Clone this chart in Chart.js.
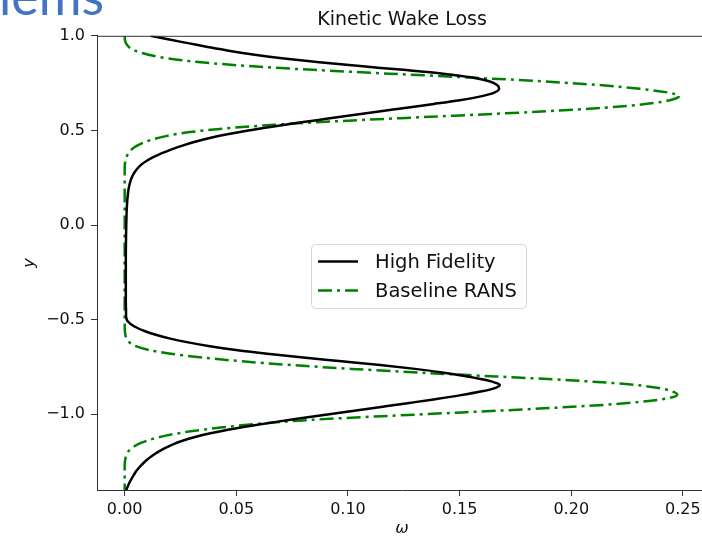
<!DOCTYPE html>
<html lang="en">
<head>
<meta charset="utf-8">
<title>Kinetic Wake Loss</title>
<script src="https://cdn.jsdelivr.net/npm/chart.js"></script>
<style>
  html,body{margin:0;padding:0;background:#fff;overflow:hidden;width:702px;height:540px}
  #wrap{width:702px;height:540px;overflow:hidden;position:relative}
  #chart{position:absolute;left:0;top:0}
</style>
</head>
<body>
<div id="wrap"><canvas id="chart" width="720" height="540"></canvas></div>

<script>
// high fidelity profile, omega against y
const hfY = [
  1.00, 0.98, 0.96, 0.94, 0.92, 0.90, 0.88, 0.86, 0.84, 0.82, 0.80, 0.78, 0.76, 0.74, 0.722,
  0.70, 0.68, 0.66, 0.64, 0.62, 0.60, 0.58, 0.56, 0.54, 0.52, 0.50, 0.48, 0.46, 0.44, 0.42, 0.40,
  0.38, 0.36, 0.34, 0.32, 0.30, 0.28, 0.26, 0.24, 0.22, 0.20, 0.18, 0.16, 0.12, 0.08, 0.04, 0.0,
  -0.2, -0.4, -0.46,
  -0.48, -0.50, -0.51, -0.52, -0.54, -0.56, -0.58, -0.60, -0.62, -0.64, -0.66, -0.68, -0.70,
  -0.72, -0.74, -0.76, -0.78, -0.80, -0.82, -0.835, -0.845,
  -0.86, -0.88, -0.90, -0.92, -0.94, -0.96, -0.98, -1.00, -1.02, -1.04, -1.06, -1.08, -1.10,
  -1.12, -1.14, -1.16, -1.18, -1.20, -1.22, -1.24, -1.26, -1.28, -1.30, -1.32, -1.34, -1.36, -1.38, -1.40
];
const hfOmega = [
  0.0115, 0.0200, 0.0289, 0.0377, 0.0472, 0.0582, 0.0714, 0.0872, 0.1054, 0.1248, 0.1426, 0.1556, 0.1632, 0.1668, 0.1677,
  0.1655, 0.1595, 0.1500, 0.1385, 0.1263, 0.1139, 0.1016, 0.0895, 0.0775, 0.0659, 0.0553, 0.0460, 0.0381, 0.0315, 0.0259, 0.0210,
  0.0167, 0.0130, 0.0099, 0.0075, 0.0058, 0.0045, 0.0035, 0.0028, 0.0023, 0.0019, 0.0016, 0.0014, 0.0011, 0.0009, 0.0008, 0.0007,
  0.0005, 0.0005, 0.0006,
  0.0006, 0.00095, 0.00145, 0.00235, 0.00505, 0.00885, 0.01395, 0.02045, 0.02845, 0.03815, 0.04985, 0.06385, 0.07995,
  0.09725, 0.11445, 0.13005, 0.14305, 0.15355, 0.16225, 0.1665, 0.1680,
  0.1661, 0.1594, 0.1500, 0.1391, 0.1275, 0.1156, 0.1036, 0.0916, 0.0796, 0.0678, 0.0567, 0.0468, 0.0384,
  0.0315, 0.0259, 0.0214, 0.0178, 0.0148, 0.0122, 0.0100, 0.0082, 0.0066, 0.0052, 0.0041, 0.0031, 0.0022, 0.0014, 0.0007
];

// baseline RANS profile
const ransY = [
  1.00, 0.98, 0.96, 0.94, 0.92, 0.90, 0.88, 0.86, 0.84, 0.82, 0.80, 0.78, 0.76, 0.74, 0.72, 0.70, 0.69, 0.683,
  0.67, 0.65, 0.63, 0.61, 0.59, 0.57, 0.55, 0.53, 0.51, 0.49, 0.47, 0.45, 0.43, 0.41, 0.39, 0.37, 0.35, 0.33, 0.31, 0.29,
  0.2, 0.0, -0.2, -0.4, -0.54,
  -0.56, -0.58, -0.60, -0.62, -0.64, -0.66, -0.68, -0.70, -0.72, -0.74, -0.76, -0.78, -0.80, -0.82, -0.84, -0.86, -0.88, -0.895,
  -0.91, -0.93, -0.95, -0.97, -0.99, -1.01, -1.03, -1.05, -1.07, -1.09, -1.11, -1.13, -1.15, -1.17, -1.19, -1.21, -1.23, -1.25, -1.27, -1.40
];
const ransOmega = [
  0.0, 0.0001, 0.0006, 0.0020, 0.0050, 0.0106, 0.0197, 0.0342, 0.0557, 0.0842, 0.1182, 0.1537, 0.1862, 0.2122, 0.2307, 0.2435, 0.2468, 0.2484,
  0.2471, 0.2401, 0.2256, 0.2021, 0.1701, 0.1331, 0.0971, 0.0671, 0.0446, 0.0283, 0.0185, 0.0118, 0.0074, 0.0042, 0.0024, 0.0012, 0.0005, 0.0002, 0.0, 0.0,
  0.0, 0.0, 0.0, 0.0, 0.0,
  0.0001, 0.0003, 0.0008, 0.0021, 0.0050, 0.0108, 0.0206, 0.0346, 0.0526, 0.0748, 0.1015, 0.1325, 0.1662, 0.1989, 0.2244, 0.2384, 0.2455, 0.2475,
  0.2452, 0.2347, 0.2147, 0.1857, 0.1512, 0.1152, 0.0827, 0.0600, 0.0430, 0.0295, 0.0195, 0.0125, 0.0075, 0.0042, 0.0021, 0.0010, 0.0004, 0.0001, 0.0, 0.0
];

const xTicks = [0, 0.05, 0.10, 0.15, 0.20, 0.25];
const yTicks = [-1.0, -0.5, 0.0, 0.5, 1.0];
const seriesNames = ['High Fidelity', 'Baseline RANS'];

const FONT = 'DejaVu Sans';
const GREEN = '#008000';
const DASHDOT = [14, 5, 3, 5];

const toPoints = (ys, xs) => ys.map((y, i) => ({ x: xs[i], y }));

// bits matplotlib draws that chart.js doesn't: top spine, legend box, slide title remnant
const extras = {
  id: 'extras',
  afterDatasetsDraw(chart) {
    const { ctx, chartArea: a } = chart;
    ctx.save();
    ctx.strokeStyle = '#333';
    ctx.lineWidth = 1;
    ctx.beginPath();
    ctx.moveTo(a.left, a.top + 0.5);
    ctx.lineTo(a.right, a.top + 0.5);
    ctx.stroke();

    // legend
    const bx = 311, by = 244, bw = 215, bh = 64;
    ctx.fillStyle = 'rgba(255,255,255,0.85)';
    ctx.strokeStyle = '#d6d6d6';
    ctx.beginPath();
    ctx.roundRect(bx + 0.5, by + 0.5, bw, bh, 4);
    ctx.fill();
    ctx.stroke();
    const rows = [
      { y: 261.5, color: '#000', dash: [] },
      { y: 290.5, color: GREEN, dash: DASHDOT }
    ];
    rows.forEach((r, i) => {
      ctx.strokeStyle = r.color;
      ctx.lineWidth = 2.5;
      ctx.setLineDash(r.dash);
      ctx.beginPath();
      ctx.moveTo(318, r.y);
      ctx.lineTo(358, r.y);
      ctx.stroke();
      ctx.setLineDash([]);
      ctx.fillStyle = '#111';
      ctx.font = `19.5px "${FONT}"`;
      ctx.textBaseline = 'middle';
      ctx.fillText(seriesNames[i], 375, r.y + 1);
    });

    ctx.fillStyle = '#4472c4';
    ctx.font = '52px Lato';
    ctx.textBaseline = 'alphabetic';
    ctx.fillText('lems', -1, 15);
    ctx.restore();
  }
};

new Chart(document.getElementById('chart'), {
  type: 'line',
  data: {
    datasets: [
      {
        label: seriesNames[0],
        data: toPoints(hfY, hfOmega),
        borderColor: '#000',
        borderWidth: 2.5,
        pointRadius: 0,
        cubicInterpolationMode: 'monotone'
      },
      {
        label: seriesNames[1],
        data: toPoints(ransY, ransOmega),
        borderColor: GREEN,
        borderWidth: 2.5,
        borderDash: DASHDOT,
        pointRadius: 0,
        cubicInterpolationMode: 'monotone'
      }
    ]
  },
  options: {
    responsive: false,
    animation: false,
    indexAxis: 'y',
    layout: { padding: { left: 0, right: 13, top: 0, bottom: 0 } },
    plugins: {
      legend: { display: false },
      tooltip: { enabled: false },
      title: {
        display: true,
        text: 'Kinetic Wake Loss',
        fullSize: false,
        color: '#111',
        font: { family: FONT, size: 19, weight: 'normal' },
        padding: { top: 9, bottom: 4 }
      }
    },
    scales: {
      x: {
        type: 'linear',
        position: 'bottom',
        min: -0.0124,
        max: 0.2608,
        afterFit(s) { s.height = 50; },
        afterBuildTicks(s) { s.ticks = xTicks.map(v => ({ value: v })); },
        ticks: {
          color: '#111',
          font: { family: FONT, size: 16 },
          padding: 4,
          maxRotation: 0,
          autoSkip: false,
          callback: v => v.toFixed(2)
        },
        grid: { drawOnChartArea: false, tickLength: 6, tickColor: '#333' },
        border: { color: '#333', width: 1 },
        title: {
          display: true,
          text: 'ω',
          color: '#111',
          font: { family: FONT, size: 16, style: 'italic' },
          padding: { top: 0, bottom: 2 }
        }
      },
      y: {
        type: 'linear',
        position: 'left',
        min: -1.4,
        max: 1.0,
        afterFit(s) { s.width = 97; },
        afterBuildTicks(s) { s.ticks = yTicks.map(v => ({ value: v })); },
        ticks: {
          color: '#111',
          font: { family: FONT, size: 16 },
          padding: 6,
          autoSkip: false,
          callback: v => (v < 0 ? '\u2212' : '') + Math.abs(v).toFixed(1)
        },
        grid: { drawOnChartArea: false, tickLength: 6, tickColor: '#333' },
        border: { color: '#333', width: 1 },
        title: {
          display: true,
          text: 'y',
          color: '#111',
          font: { family: FONT, size: 16, style: 'italic' },
          padding: { top: 20, bottom: 0 }
        }
      }
    }
  },
  plugins: [extras]
});
</script>

</body>
</html>
